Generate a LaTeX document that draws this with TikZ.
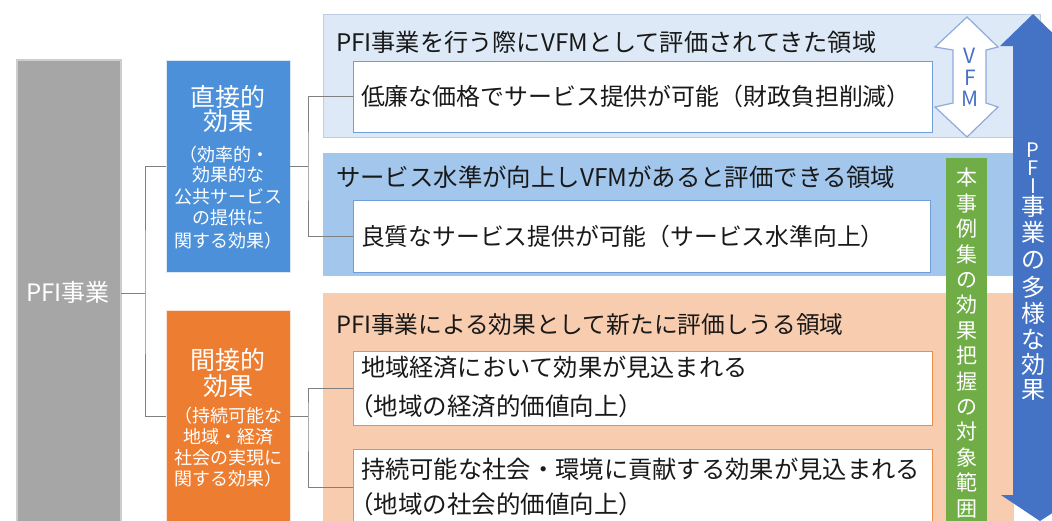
\documentclass[tikz,border=0pt]{standalone}
\usepackage{fontspec}
\setmainfont{Noto Sans CJK JP}
\newfontfamily\jpf{Noto Sans CJK JP}
\usetikzlibrary{calc}
\newcommand\fsz[1]{\fontsize{#1}{#1}\selectfont}
\definecolor{grayfill}{RGB}{166,166,166}
\definecolor{grayedge}{RGB}{205,205,205}
\definecolor{bluebox}{RGB}{76,144,217}
\definecolor{orangebox}{RGB}{237,125,49}
\definecolor{panelA}{RGB}{221,233,246}
\definecolor{panelAedge}{RGB}{190,205,225}
\definecolor{panelB}{RGB}{162,198,236}
\definecolor{panelC}{RGB}{248,204,174}
\definecolor{innerblue}{RGB}{112,158,216}
\definecolor{innerorange}{RGB}{240,140,70}
\definecolor{greenbox}{RGB}{112,173,71}
\definecolor{bigblue}{RGB}{68,114,196}
\definecolor{vfmedge}{RGB}{143,170,220}
\definecolor{vfmtext}{RGB}{72,112,196}
\definecolor{connc}{RGB}{128,128,128}
\definecolor{txtc}{RGB}{25,25,25}
\begin{document}
\begin{tikzpicture}[x=1pt,y=-1pt,
  box/.style={rectangle, inner sep=0pt, outer sep=0pt, line width=0.8pt},
  lbl/.style={inner sep=0pt, outer sep=0pt, anchor=base},
  lblw/.style={inner sep=0pt, outer sep=0pt, anchor=base west, text=txtc},
  conn/.style={draw=connc, line width=0.9pt},
  wlbl/.style={lbl, text=white},
]
\useasboundingbox (0,0) rectangle (1052,520);
\clip (0,0) rectangle (1052,520);
\fill[white] (0,0) rectangle (1052,520);

% panels
\node[box, fill=panelA, draw=panelAedge, minimum width=717pt, minimum height=123pt] (pA) at (681.5,75.5) {};
\node[box, fill=panelB, draw=panelB, minimum width=690pt, minimum height=122pt] (pB) at (668,214) {};
\node[box, fill=panelC, draw=panelC, minimum width=690pt, minimum height=247pt] (pC) at (668,416.5) {};

% inner boxes
\node[box, fill=white, draw=innerblue, minimum width=579pt, minimum height=71pt] (A1) at (642.5,96.5) {};
\node[box, fill=white, draw=innerblue, minimum width=577pt, minimum height=72pt] (B1) at (641.5,236) {};
\node[box, fill=white, draw=innerorange, minimum width=579pt, minimum height=74pt] (C1) at (642.5,388) {};
\node[box, fill=white, draw=innerorange, minimum width=579pt, minimum height=76pt] (C2) at (642.5,487) {};

% left boxes
\node[box, fill=grayfill, draw=grayedge, line width=1.2pt, minimum width=104pt, minimum height=466pt] (gray) at (69,293) {};
\node[box, fill=bluebox, draw=white!80!bluebox, minimum width=124pt, minimum height=212pt] (direct) at (228,166) {};
\node[box, fill=orangebox, draw=white!80!orangebox, minimum width=124pt, minimum height=212pt] (indirect) at (228,416) {};

% green box
\node[box, fill=greenbox, minimum width=41pt, minimum height=382pt] (green) at (966.5,349) {};

% connectors
\draw[conn] (gray.east) -- ++(24,0) coordinate (j0);
\draw[conn] (direct.west) -| (j0) |- (indirect.west);
\draw[conn] (direct.east) -- ++(18,0) coordinate (j1);
\draw[conn] (A1.west) -| (j1) |- (B1.west);
\draw[conn] (indirect.east) -- ++(18,0) coordinate (j2);
\draw[conn] (C1.west) -| (j2) |- (C2.west);

% VFM double arrow
\draw[fill=white, draw=vfmedge, line width=1.2pt, line join=miter]
  (967,17) -- (998,47) -- (986,50) -- (986,103) -- (998,107) -- (967,137)
  -- (935,107) -- (953,103) -- (953,50) -- (935,47) -- cycle;
\node[lbl, text=vfmtext, font=\fsz{21}] (vV) at (970,63.7) {V};
\node[lbl, text=vfmtext, font=\fsz{21}] (vF) at (970,85) {F};
\node[lbl, text=vfmtext, font=\fsz{21}] (vM) at (970,106) {M};

% big blue arrow
\fill[bigblue] (1013,46) -- (1000,46) -- (1033,14) -- (1066,46) -- (1056,46)
  -- (1056,495) -- (1080,495) -- (1040,521) -- (1001,495) -- (1013,495) -- cycle;

% texts in left boxes
\node[wlbl, font=\fsz{24}] (pfit) at (68,301.9) {PFI事業};
\node[wlbl, font=\fsz{25}] (d1) at (228,106) {直接的};
\node[wlbl, font=\fsz{25}] (d2) at (228,130) {効果};
\node[wlbl, font=\fsz{18}] (d3) at (224,161.7) {（効率的・};
\node[wlbl, font=\fsz{18}] (d4) at (228,181.7) {効果的な};
\node[wlbl, font=\fsz{18}] (d5) at (228,203.7) {公共サービス};
\node[wlbl, font=\fsz{18}] (d6) at (228,224.7) {の提供に};
\node[wlbl, font=\fsz{18}] (d7) at (228,247.7) {関する効果）};
\node[wlbl, font=\fsz{25}] (i1) at (228,369.3) {間接的};
\node[wlbl, font=\fsz{25}] (i2) at (228,395.3) {効果};
\node[wlbl, font=\fsz{18}] (i3) at (228,422.7) {（持続可能な};
\node[wlbl, font=\fsz{18}] (i4) at (228,443.7) {地域・経済};
\node[wlbl, font=\fsz{18}] (i5) at (228,464.7) {社会の実現に};
\node[wlbl, font=\fsz{18}] (i6) at (228,485.7) {関する効果）};

% panel titles and inner texts
\node[lblw, font=\fsz{24.2}] (tA) at (336,51.9) {PFI事業を行う際にVFMとして評価されてきた領域};
\node[lblw, font=\fsz{23.9}] (tA1) at (361,105.7) {低廉な価格でサービス提供が可能（財政負担削減）};
\node[lblw, font=\fsz{24.4}] (tB) at (336,186.9) {サービス水準が向上しVFMがあると評価できる領域};
\node[lblw, font=\fsz{23.8}] (tB1) at (361,245.9) {良質なサービス提供が可能（サービス水準向上）};
\node[lblw, font=\fsz{23.7}] (tC) at (336,333.9) {PFI事業による効果として新たに評価しうる領域};
\node[lblw, font=\fsz{24.2}] (tC1a) at (361,376.9) {地域経済において効果が見込まれる};
\node[lblw, font=\fsz{24.5}] (tC1b) at (349,415.9) {（地域の経済的価値向上）};
\node[lblw, font=\fsz{24.3}] (tC2a) at (361,478.9) {持続可能な社会・環境に貢献する効果が見込まれる};
\node[lblw, font=\fsz{24.5}] (tC2b) at (349,513.9) {（地域の社会的価値向上）};

% green vertical text
\foreach \c [count=\i from 0] in {本,事,例,集,の,効,果,把,握,の,対,象,範,囲}
  \node[wlbl, font=\fsz{21}] (g\i) at (966.5,{178+25.4*\i+7.8}) {\c};

% big arrow vertical text
\node[wlbl, font=\fsz{20}] (b1) at (1033,157.3) {P};
\node[wlbl, font=\fsz{20}] (b2) at (1033,175.3) {F};
\node[wlbl, font=\fsz{20}] (b3) at (1033,193.3) {I};
\node[wlbl, font=\fsz{24}] (b4) at (1033,215.9) {事};
\node[wlbl, font=\fsz{24}] (b5) at (1033,241.9) {業};
\node[wlbl, font=\fsz{24}] (b6) at (1033,268.9) {の};
\node[wlbl, font=\fsz{24}] (b7) at (1033,296.9) {多};
\node[wlbl, font=\fsz{24}] (b8) at (1033,322.9) {様};
\node[wlbl, font=\fsz{24}] (b9) at (1033,348.9) {な};
\node[wlbl, font=\fsz{24}] (b10) at (1033,373.9) {効};
\node[wlbl, font=\fsz{24}] (b11) at (1033,398.9) {果};
\end{tikzpicture}
\end{document}
